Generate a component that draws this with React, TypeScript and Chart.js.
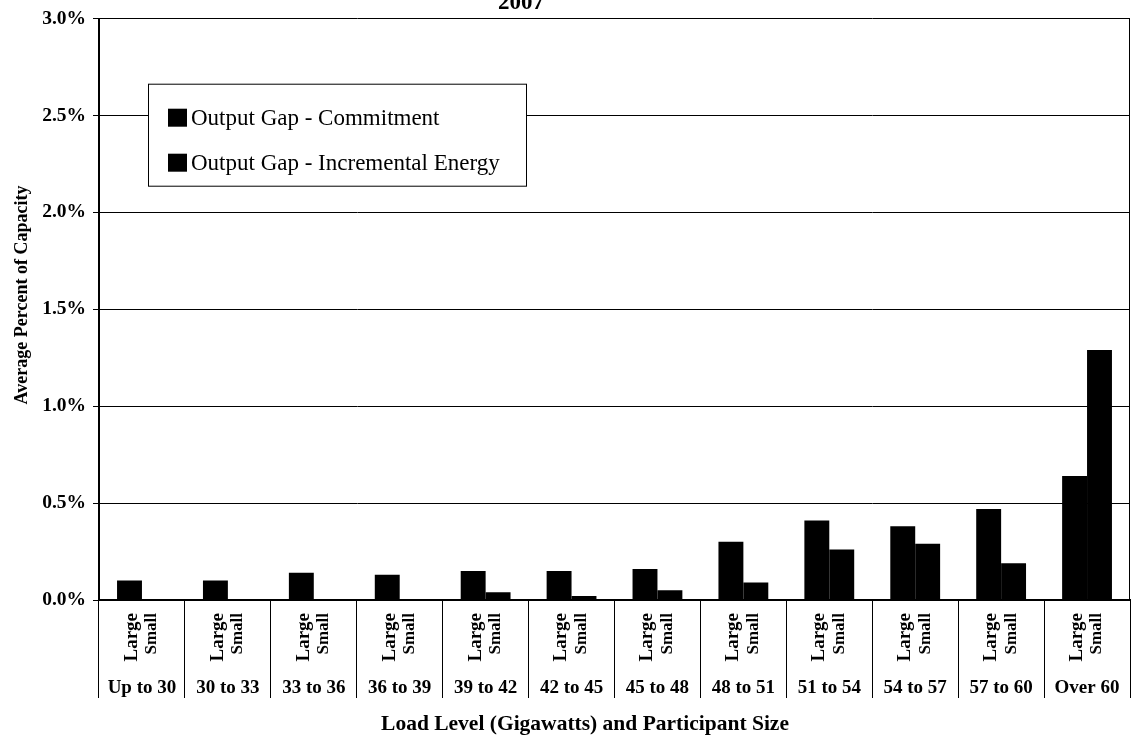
import React, { useEffect, useRef } from "react";
import { Chart, registerables } from "chart.js";

Chart.register(...registerables);

const categories = [
  "Up to 30",
  "30 to 33",
  "33 to 36",
  "36 to 39",
  "39 to 42",
  "42 to 45",
  "45 to 48",
  "48 to 51",
  "51 to 54",
  "54 to 57",
  "57 to 60",
  "Over 60",
];
const largeValues = [0.1, 0.1, 0.14, 0.13, 0.15, 0.15, 0.16, 0.3, 0.41, 0.38, 0.47, 0.64];
const smallValues = [0.0, 0.005, 0.0, 0.005, 0.04, 0.02, 0.05, 0.09, 0.26, 0.29, 0.19, 1.29];
const sizeLabels = ["Large", "Small"];
const legendLabels = ["Output Gap - Commitment", "Output Gap - Incremental Energy"];
const yTicks = [0, 0.5, 1, 1.5, 2, 2.5, 3];
const chartTitle = "2007";
const xTitle = "Load Level (Gigawatts) and Participant Size";
const yTitle = "Average Percent of Capacity";

const SERIF = '"Liberation Serif", "Times New Roman", serif';

const decorations = {
  id: "decorations",
  afterDraw(chart: any) {
    const { ctx, chartArea, scales } = chart;
    const xs = scales.x;
    ctx.save();
    ctx.fillStyle = "#000";
    ctx.strokeStyle = "#000";

    // title (partially cut at top, as in the scan)
    ctx.font = `bold 23px ${SERIF}`;
    ctx.textAlign = "center";
    ctx.textBaseline = "alphabetic";
    ctx.fillText(chartTitle, 521, 9);

    // right border of the plot
    ctx.lineWidth = 1;
    ctx.beginPath();
    ctx.moveTo(chartArea.right - 0.5, chartArea.top);
    ctx.lineTo(chartArea.right - 0.5, chartArea.bottom);
    ctx.stroke();

    // y-axis title
    ctx.save();
    ctx.translate(22, 295);
    ctx.rotate(-Math.PI / 2);
    ctx.font = `bold 18px ${SERIF}`;
    ctx.textAlign = "center";
    ctx.textBaseline = "middle";
    ctx.fillText(yTitle, 0, 0);
    ctx.restore();

    // legend box inside plot
    const lx = chartArea.left + 49;
    const ly = chartArea.top + 65;
    const lw = 378;
    const lh = 102;
    ctx.fillStyle = "#fff";
    ctx.fillRect(lx, ly, lw, lh);
    ctx.lineWidth = 1;
    ctx.strokeStyle = "#000";
    ctx.strokeRect(lx + 0.5, ly + 0.5, lw, lh);
    ctx.font = `23px ${SERIF}`;
    ctx.textAlign = "left";
    ctx.textBaseline = "middle";
    legendLabels.forEach((t, i) => {
      const cy = ly + 34 + i * 45;
      ctx.fillStyle = "#000";
      ctx.fillRect(lx + 20, cy - 9, 19, 18);
      ctx.fillText(t, lx + 43, cy + 1);
    });

    // x category labels
    categories.forEach((c, i) => {
      const cx = xs.getPixelForValue(i);
      ctx.fillStyle = "#000";
      ctx.font = `bold 19px ${SERIF}`;
      ctx.textAlign = "center";
      ctx.textBaseline = "middle";
      ctx.fillText(c, cx, chartArea.bottom + 88);
      sizeLabels.forEach((s, j) => {
        ctx.save();
        ctx.translate(cx - 10 + 20 * j, chartArea.bottom + 13);
        ctx.rotate(-Math.PI / 2);
        ctx.textAlign = "right";
        ctx.textBaseline = "middle";
        ctx.font = `bold ${j === 0 ? 19 : 17}px ${SERIF}`;
        ctx.fillText(s, 0, 0);
        ctx.restore();
      });
    });

    // x-axis title
    ctx.font = `bold 21.5px ${SERIF}`;
    ctx.textAlign = "center";
    ctx.textBaseline = "middle";
    ctx.fillText(xTitle, 585, 724);

    ctx.restore();
  },
};

export default function App() {
  const canvasRef = useRef<HTMLCanvasElement | null>(null);

  useEffect(() => {
    if (!canvasRef.current) return;
    Chart.defaults.font.family = SERIF;
    const chart = new Chart(canvasRef.current, {
      type: "bar",
      data: {
        labels: categories,
        datasets: [
          {
            label: sizeLabels[0],
            data: largeValues,
            backgroundColor: "#000",
            borderWidth: 0,
            categoryPercentage: 0.58,
            barPercentage: 1.0,
          },
          {
            label: sizeLabels[1],
            data: smallValues,
            backgroundColor: "#000",
            borderWidth: 0,
            categoryPercentage: 0.58,
            barPercentage: 1.0,
          },
        ],
      },
      options: {
        responsive: false,
        animation: false,
        maintainAspectRatio: false,
        layout: { padding: { top: 16, right: 3, left: 0, bottom: 0 } },
        plugins: {
          legend: { display: false },
          tooltip: { enabled: false },
          title: { display: false },
        },
        scales: {
          x: {
            type: "category",
            grid: {
              display: true,
              drawOnChartArea: false,
              drawTicks: true,
              tickLength: 98,
              color: "#000",
              lineWidth: 1,
              offset: true,
            },
            ticks: { display: false },
            border: { display: true, color: "#000", width: 2 },
            afterFit: (s: any) => {
              s.height = 140;
            },
          },
          y: {
            min: 0,
            max: 3,
            afterBuildTicks: (s: any) => {
              s.ticks = yTicks.map((v) => ({ value: v }));
            },
            grid: {
              color: "#000",
              lineWidth: 1,
              drawTicks: true,
              tickLength: 6,
            },
            border: { display: true, color: "#000", width: 2 },
            ticks: {
              color: "#000",
              padding: 7,
              font: { family: SERIF, size: 19.5, weight: "bold" },
              callback: (v: any) => Number(v).toFixed(1) + "%",
            },
            afterFit: (s: any) => {
              s.width = 99;
            },
          },
        },
      },
      plugins: [decorations],
    });
    return () => chart.destroy();
  }, []);

  return (
    <div style={{ position: "fixed", left: 0, top: 0, width: 1133, height: 740, background: "#fff" }}>
      <canvas ref={canvasRef} width={1133} height={740} />
    </div>
  );
}
